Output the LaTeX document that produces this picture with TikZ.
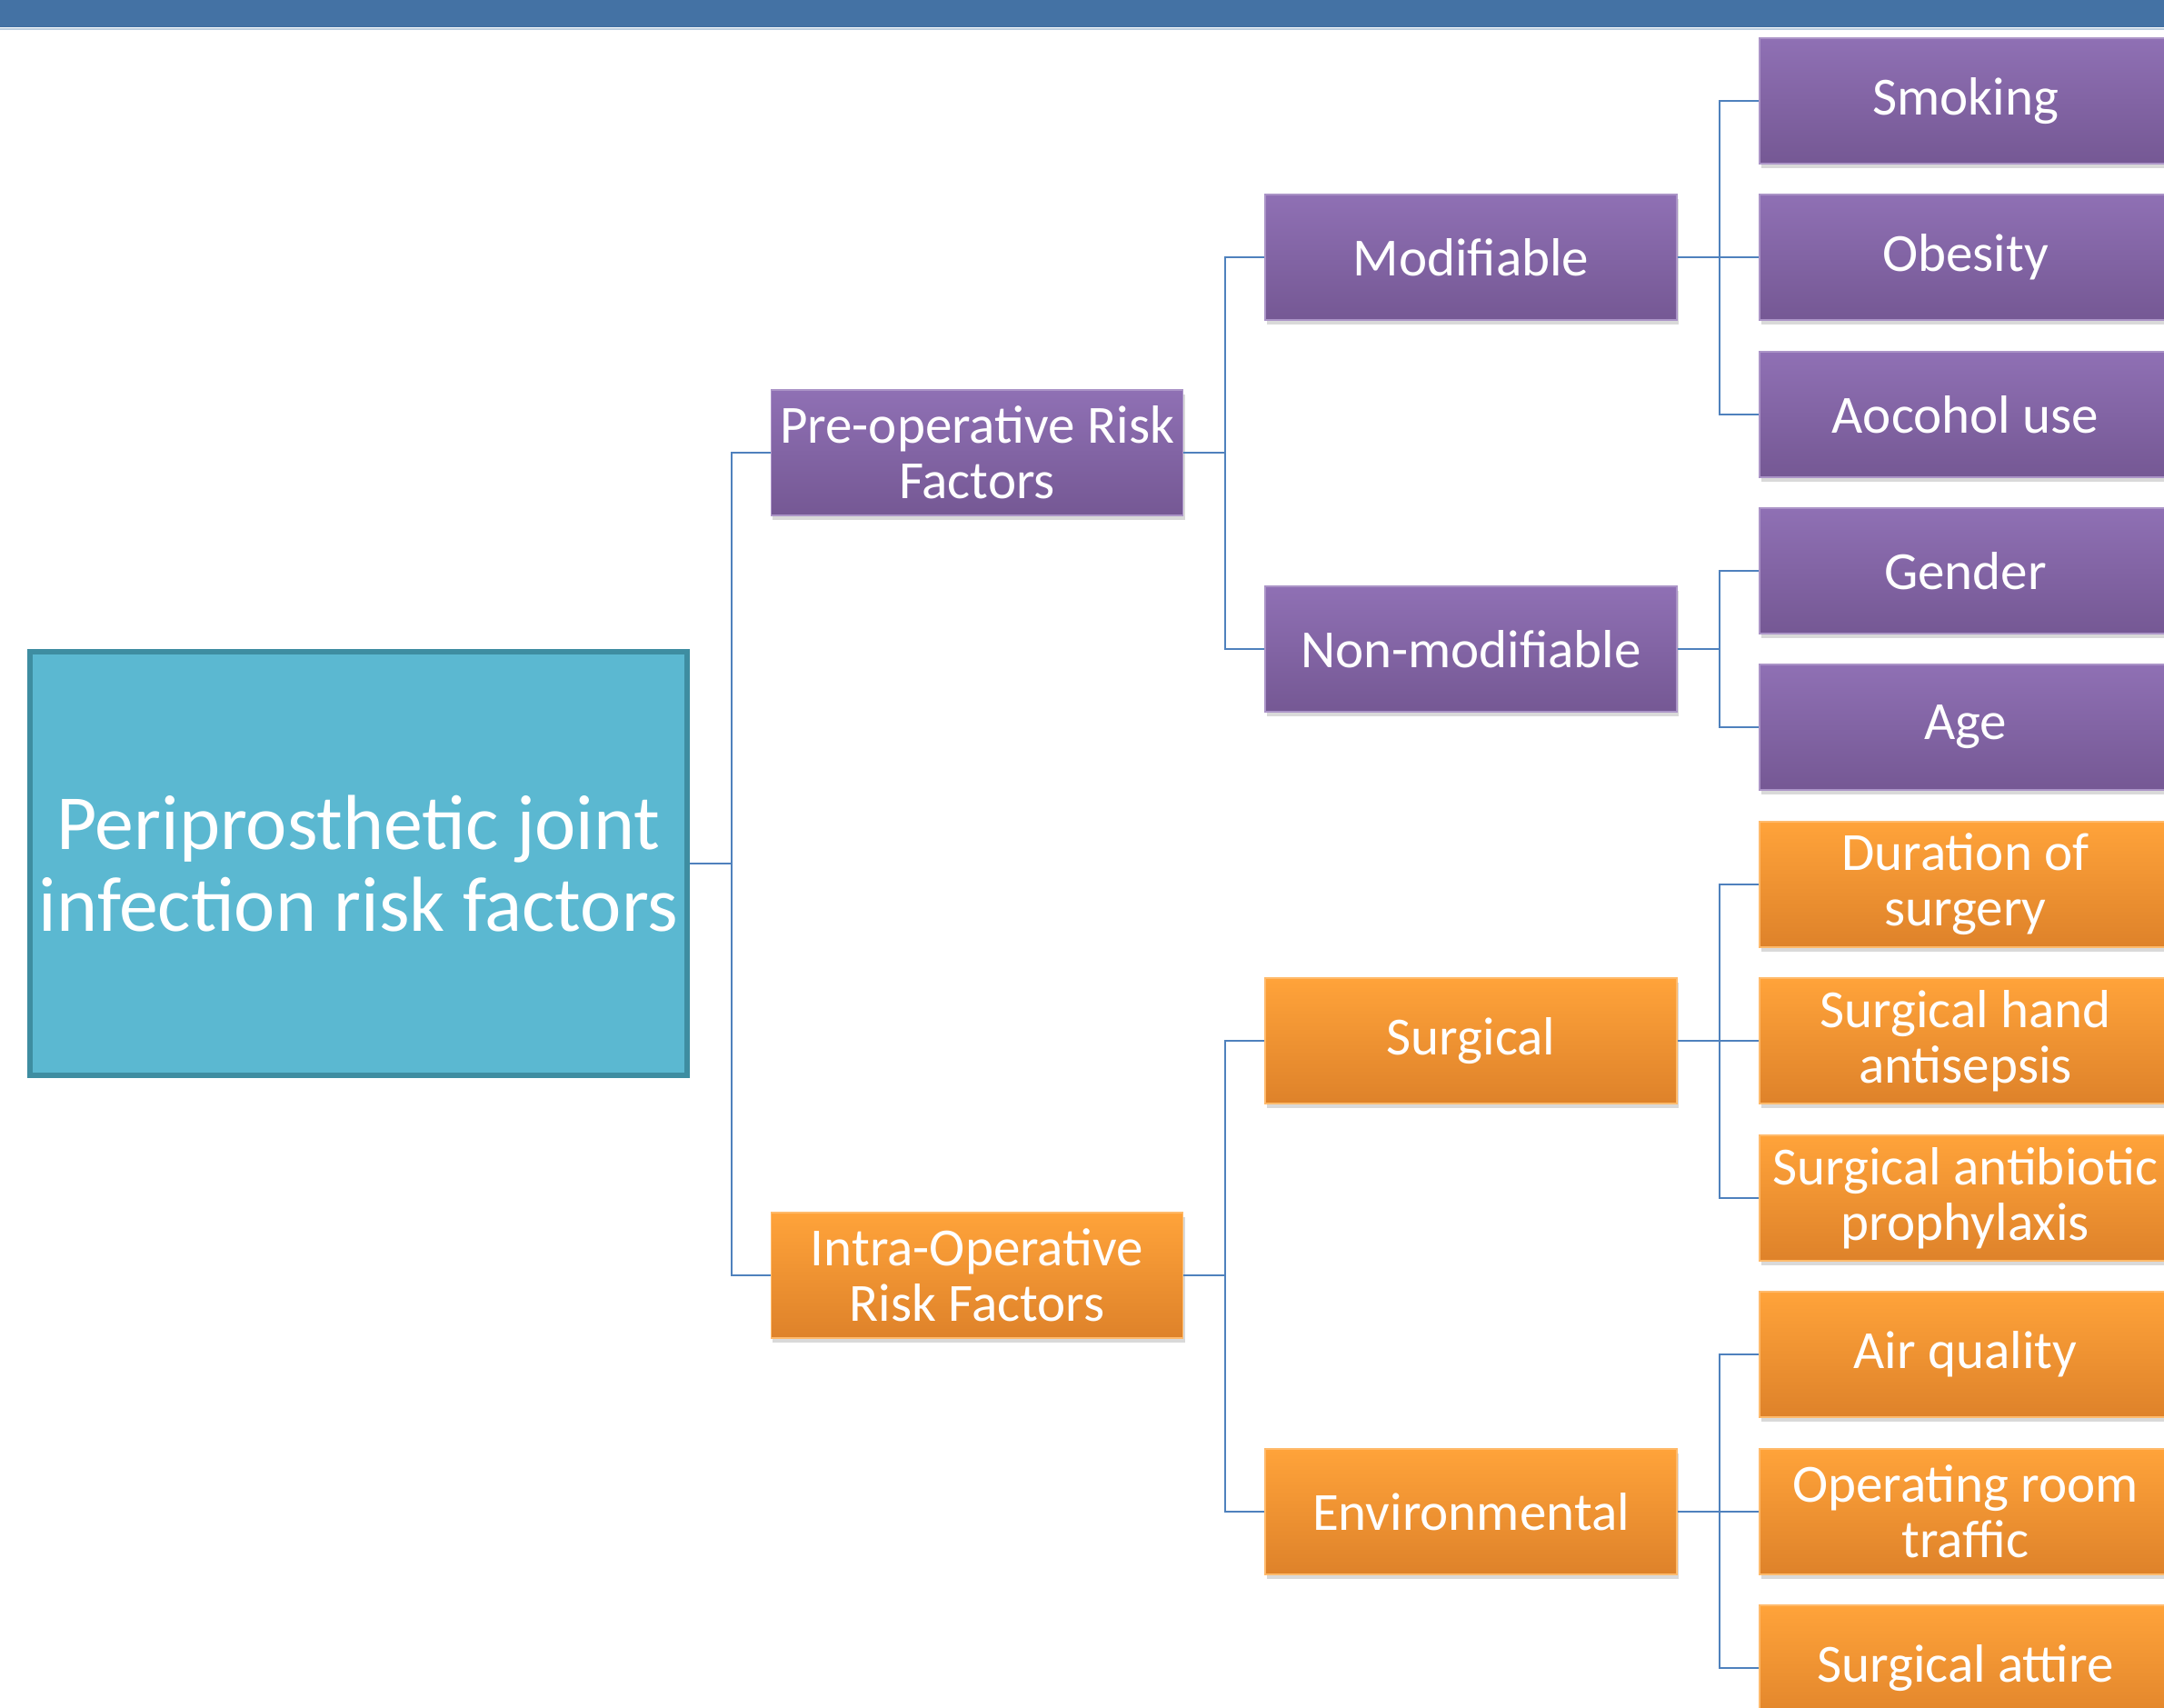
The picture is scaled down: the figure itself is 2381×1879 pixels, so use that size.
\documentclass[tikz,border=0pt]{standalone}
\usepackage{fontspec}
\setmainfont{Carlito}
\usetikzlibrary{shadows}
\definecolor{barblue}{RGB}{68,114,164}
\definecolor{rootfill}{RGB}{91,184,209}
\definecolor{rootdraw}{RGB}{62,141,161}
\definecolor{purptop}{RGB}{143,112,180}
\definecolor{purpbot}{RGB}{117,88,148}
\definecolor{orantop}{RGB}{255,163,58}
\definecolor{oranbot}{RGB}{222,130,42}
\definecolor{linkblue}{RGB}{79,129,189}
\tikzset{
  every node/.style={font=\fontsize{16.8}{17.4}\selectfont},
  cen/.style  = {rectangle, draw=rootdraw, line width=0.06cm, fill=rootfill, text=white,
                 align=center, minimum width=7.23cm, minimum height=4.66cm, inner sep=2pt,
                 font=\fontsize{24.4}{25.5}\selectfont},
  purp/.style = {rectangle, draw=purptop!75!white, line width=0.4pt, top color=purptop,
                 bottom color=purpbot, text=white, align=center, minimum width=4.53cm,
                 minimum height=1.38cm, inner sep=2pt,
                 drop shadow={shadow xshift=0.02cm, shadow yshift=-0.05cm, opacity=0.3}},
  oran/.style = {rectangle, draw=orantop!75!white, line width=0.4pt, top color=orantop,
                 bottom color=oranbot, text=white, align=center, minimum width=4.53cm,
                 minimum height=1.38cm, inner sep=2pt,
                 drop shadow={shadow xshift=0.02cm, shadow yshift=-0.05cm, opacity=0.3}},
  link/.style = {draw=linkblue, line width=0.02cm},
}
\begin{document}
\begin{tikzpicture}[x=0.01cm, y=-0.01cm]
  \useasboundingbox (0,0) rectangle (2381,1879);
  \clip (0,0) rectangle (2381,1879);

  % ---- header bar ----
  \fill[barblue] (0,0) rectangle (2381,30);
  \draw[barblue!35, line width=0.02cm] (0,32) -- (2381,32);

  % ---- root ----
  \node[cen] (root) at (394.5,950) {Periprosthetic joint\\infection risk factors};

  % ---- first level ----
  \node[purp] (pre)   at (1075,498)  {Pre-operative Risk\\Factors};
  \node[oran] (intra) at (1075,1403) {Intra-Operative\\Risk Factors};

  % ---- second level ----
  \node[purp] (mod)  at (1618.5,283)  {Modifiable};
  \node[purp] (nmod) at (1618.5,714)  {Non-modifiable};
  \node[oran] (surg) at (1618.5,1145) {Surgical};
  \node[oran] (env)  at (1618.5,1663) {Environmental};

  % ---- leaves ----
  \node[purp] (smok)  at (2162.5,111)  {Smoking};
  \node[purp] (obes)  at (2162.5,283)  {Obesity};
  \node[purp] (alco)  at (2162.5,456)  {Aocohol use};
  \node[purp] (gend)  at (2162.5,628)  {Gender};
  \node[purp] (age)   at (2162.5,800)  {Age};
  \node[oran] (dur)   at (2162.5,973)  {Duration of\\surgery};
  \node[oran] (hand)  at (2162.5,1145) {Surgical hand\\antisepsis};
  \node[oran] (abx)   at (2162.5,1318) {Surgical antibiotic\\prophylaxis};
  \node[oran] (air)   at (2162.5,1490) {Air quality};
  \node[oran] (traf)  at (2162.5,1663) {Operating room\\traffic};
  \node[oran] (attir) at (2162.5,1835) {Surgical attire};

  % ---- connectors ----
  \draw[link] (root.east) -- ++(46,0) |- (pre.west);
  \draw[link] (root.east) -- ++(46,0) |- (intra.west);

  \draw[link] (pre.east)   -- ++(46,0) |- (mod.west);
  \draw[link] (pre.east)   -- ++(46,0) |- (nmod.west);
  \draw[link] (intra.east) -- ++(46,0) |- (surg.west);
  \draw[link] (intra.east) -- ++(46,0) |- (env.west);

  \draw[link] (mod.east)  -- ++(46,0) |- (smok.west);
  \draw[link] (mod.east)  -- ++(46,0) |- (obes.west);
  \draw[link] (mod.east)  -- ++(46,0) |- (alco.west);
  \draw[link] (nmod.east) -- ++(46,0) |- (gend.west);
  \draw[link] (nmod.east) -- ++(46,0) |- (age.west);
  \draw[link] (surg.east) -- ++(46,0) |- (dur.west);
  \draw[link] (surg.east) -- ++(46,0) |- (hand.west);
  \draw[link] (surg.east) -- ++(46,0) |- (abx.west);
  \draw[link] (env.east)  -- ++(46,0) |- (air.west);
  \draw[link] (env.east)  -- ++(46,0) |- (traf.west);
  \draw[link] (env.east)  -- ++(46,0) |- (attir.west);
\end{tikzpicture}
\end{document}
